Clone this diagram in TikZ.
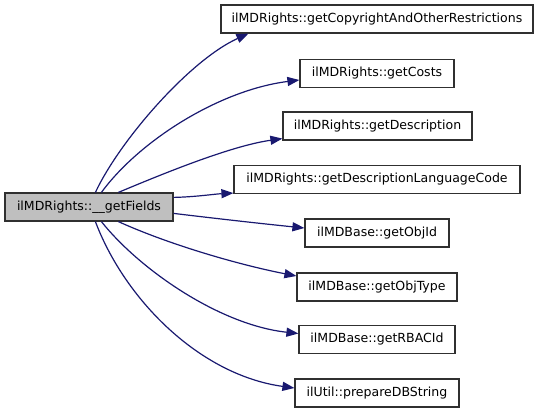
\documentclass[tikz,border=0pt]{standalone}
\usepackage{fontspec}
\setmainfont{DejaVu Sans}
\usetikzlibrary{arrows.meta,calc}
\definecolor{edgeblue}{HTML}{191970}
\definecolor{rootgray}{HTML}{BFBFBF}
\definecolor{boxline}{HTML}{303030}
\tikzset{
  fn/.style={draw=boxline, line width=0.9pt, fill=white, minimum height=21pt, inner sep=0pt,
    font=\fontsize{9.4pt}{11pt}\selectfont, anchor=center},
  rootfn/.style={fn, fill=rootgray},
  edge/.style={draw=edgeblue, line width=0.9pt, -{Triangle[length=9pt,width=6.8pt]}},
}
\begin{document}
\begin{tikzpicture}[x=0.75pt,y=-0.75pt]
\useasboundingbox (0,0) rectangle (539,413);
\node[rootfn, minimum width=126pt] (root) at (89,207) {ilMDRights::\_\_getFields};
\node[fn, minimum width=234pt] (b1) at (377,19) {ilMDRights::getCopyrightAndOtherRestrictions};
\node[fn, minimum width=115.5pt] (b2) at (377,73.5) {ilMDRights::getCosts};
\node[fn, minimum width=141.75pt] (b3) at (377.5,126) {ilMDRights::getDescription};
\node[fn, minimum width=214.5pt] (b4) at (377,179.5) {ilMDRights::getDescriptionLanguageCode};
\node[fn, minimum width=108pt] (b5) at (377,233) {ilMDBase::getObjId};
\node[fn, minimum width=120pt] (b6) at (377,287) {ilMDBase::getObjType};
\node[fn, minimum width=117pt] (b7) at (377,339.5) {ilMDBase::getRBACId};
\node[fn, minimum width=123pt] (b8) at (377,393) {ilUtil::prepareDBString};

\draw[edge] ($(root.north west)+(91,0)$) .. controls (120,140) and (190,60) .. ($(b1.south west)+(28,0)$);
\draw[edge] ($(root.north west)+(97,0)$) .. controls (140,140) and (220,90) .. ($(b2.west)+(0,6.5)$);
\draw[edge] ($(root.north west)+(114,0)$) .. controls (160,175) and (230,146) .. ($(b3.south west)+(0,-2)$);
\draw[edge] ($(root.north east)+(0,5)$) .. controls (195,197) and (215,194) .. ($(b4.south west)+(0,-1)$);
\draw[edge] ($(root.north east)+(0,21)$) .. controls (220,219) and (265,224) .. ($(b5.west)+(0,-5)$);
\draw[edge] ($(root.south west)+(114,0)$) .. controls (170,245) and (240,265) .. ($(b6.west)+(0,-11)$);
\draw[edge] ($(root.south west)+(97,0)$) .. controls (140,270) and (220,325) .. ($(b7.west)+(0,-6)$);
\draw[edge] ($(root.south west)+(91,0)$) .. controls (125,300) and (200,375) .. ($(b8.west)+(0,-5)$);
\end{tikzpicture}
\end{document}
